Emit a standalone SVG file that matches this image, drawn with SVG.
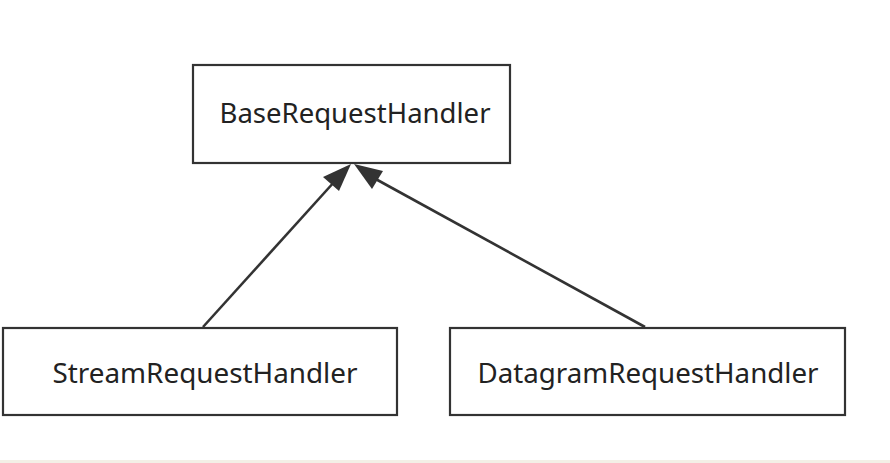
<svg xmlns="http://www.w3.org/2000/svg" width="890" height="463" viewBox="0 0 890 463">
<style>
.box{fill:#fff;stroke:#333;stroke-width:2.2}
.lbl{font-family:"Noto Sans","Open Sans",sans-serif;font-size:27px;fill:#222;text-anchor:middle}
.edge{stroke:#333;stroke-width:2.6;fill:none}
.head{fill:#333}
</style>
<rect x="0" y="0" width="890" height="463" fill="#fff"/>
<rect x="0" y="460" width="890" height="3" fill="#f3efe6"/>
<g id="connectors">
<path class="edge" d="M203,327 L335,181"/>
<path class="edge" d="M645,327 L372,177"/>
<path class="head" d="M351,164 L339,191 L323,177 z"/>
<path class="head" d="M354,164 L383,171 L372,189 z"/>
</g>
<g id="base">
<rect class="box" x="193" y="65" width="317" height="98"/>
<text class="lbl" x="355" y="123" textLength="271" lengthAdjust="spacingAndGlyphs">BaseRequestHandler</text>
</g>
<g id="stream">
<rect class="box" x="3" y="328" width="394" height="87"/>
<text class="lbl" x="205" y="383" textLength="305" lengthAdjust="spacingAndGlyphs">StreamRequestHandler</text>
</g>
<g id="datagram">
<rect class="box" x="450" y="328" width="395" height="87"/>
<text class="lbl" x="648" y="383" textLength="341" lengthAdjust="spacingAndGlyphs">DatagramRequestHandler</text>
</g>
</svg>
